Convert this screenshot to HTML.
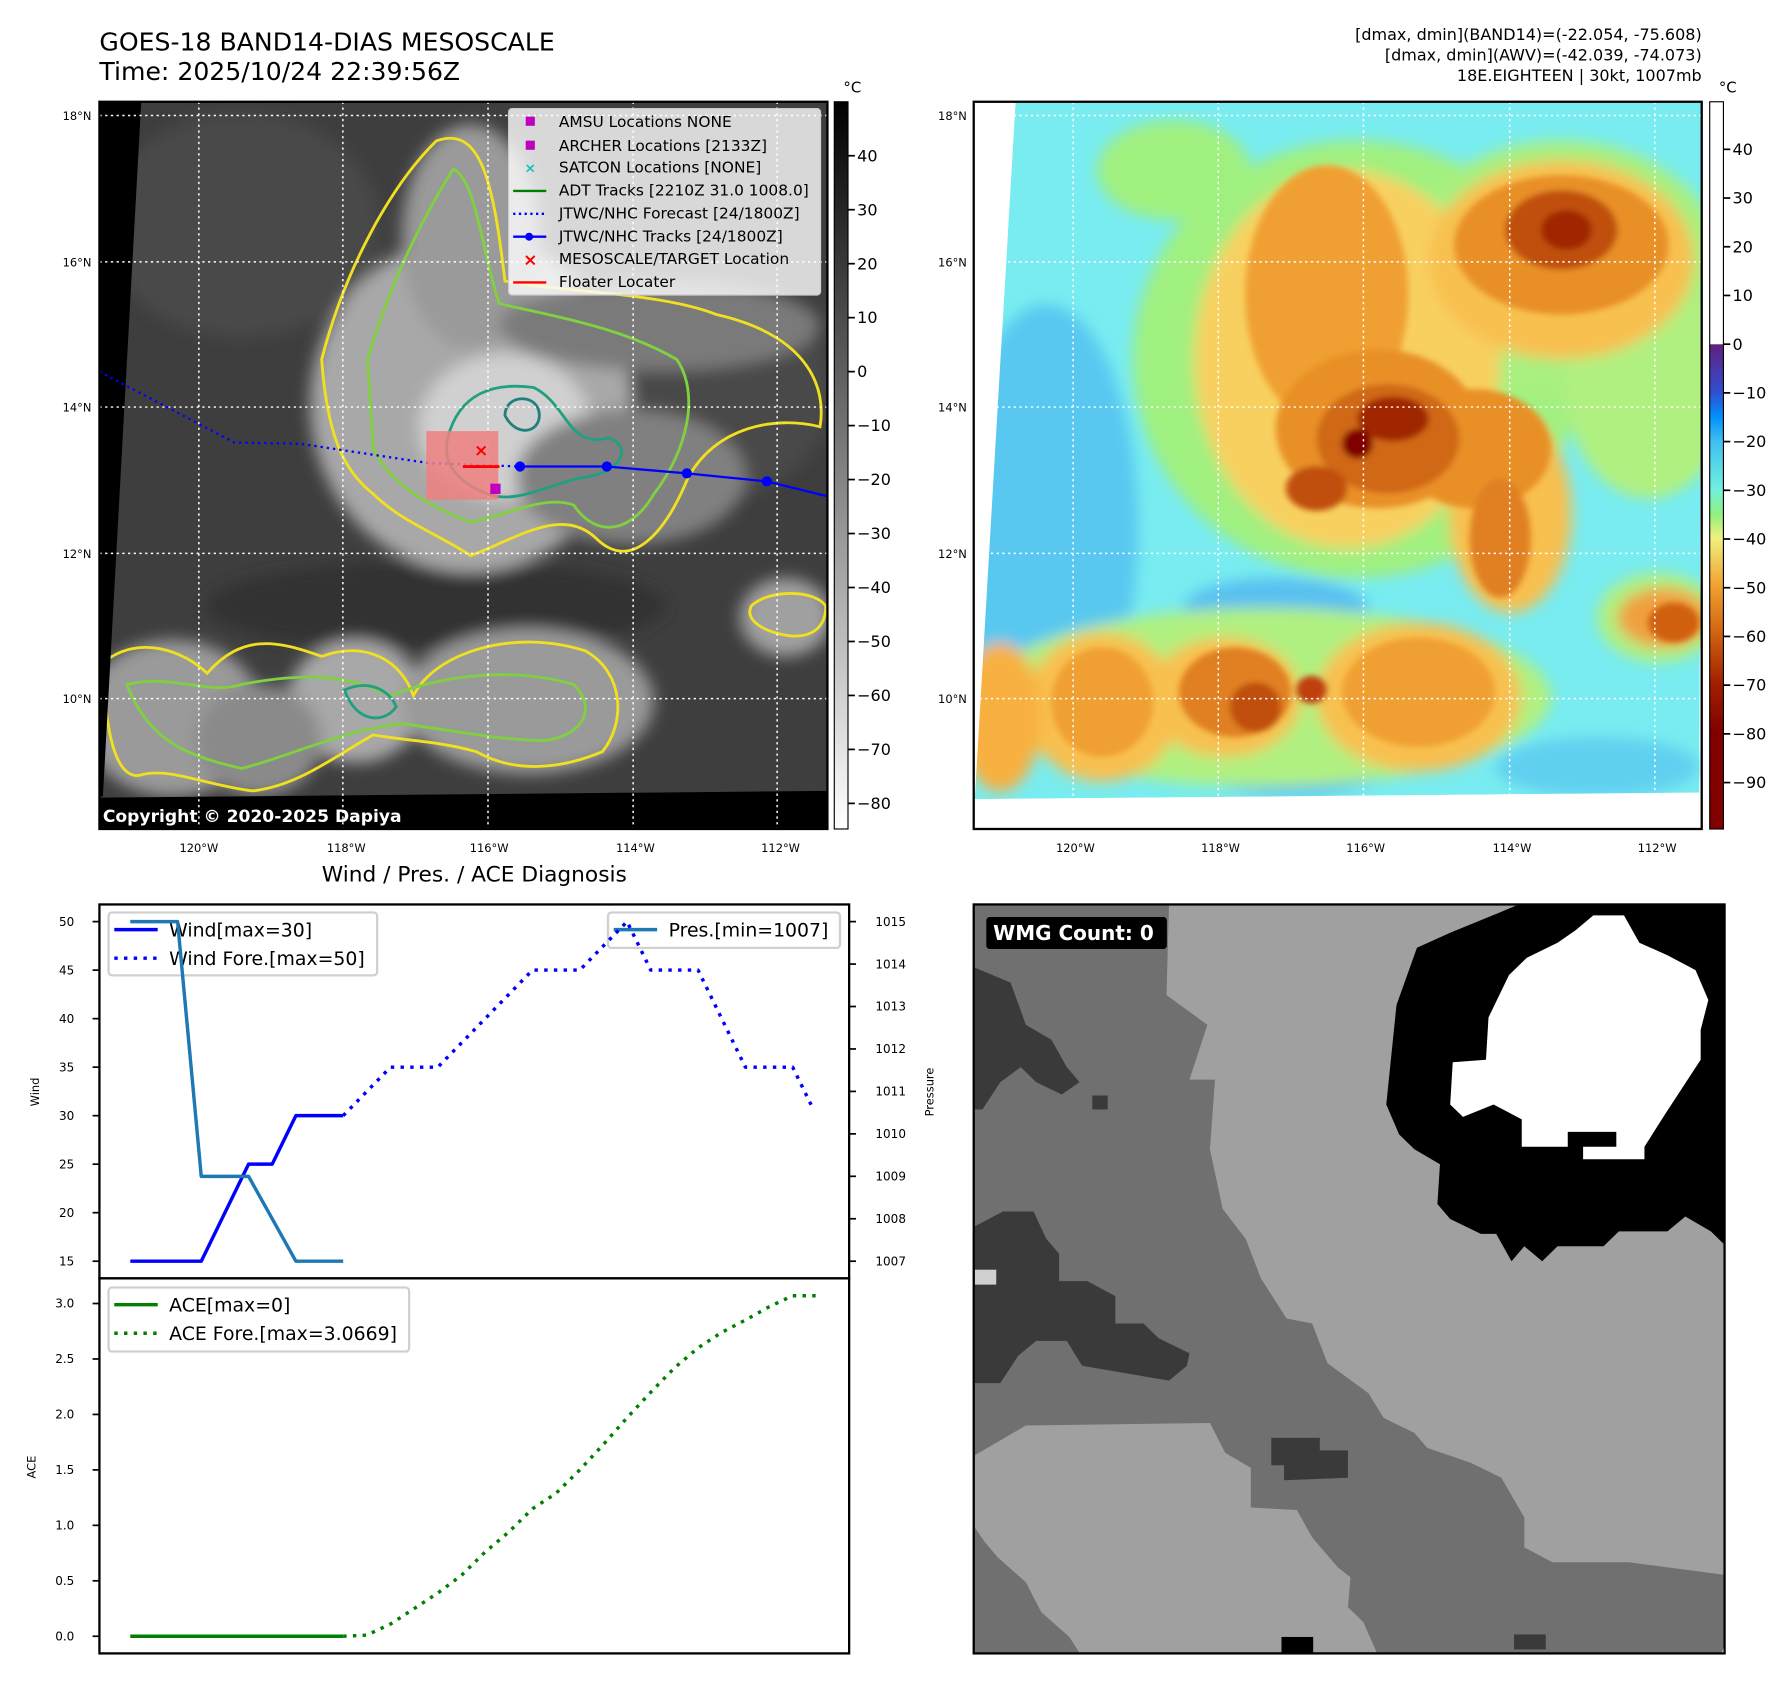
<!DOCTYPE html>
<html><head><meta charset="utf-8">
<style>
html,body{margin:0;padding:0;background:#fff;}
svg{display:block;font-family:"DejaVu Sans","Liberation Sans",sans-serif;}
</style></head>
<body>
<svg id="fig" width="1792" height="1690" viewBox="0 0 1568 1478" preserveAspectRatio="none" xmlns="http://www.w3.org/2000/svg">
<defs>
  <filter id="blur8" x="-30%" y="-30%" width="160%" height="160%"><feGaussianBlur stdDeviation="14"/></filter>
  <filter id="blur4" x="-30%" y="-30%" width="160%" height="160%"><feGaussianBlur stdDeviation="6"/></filter>
  <clipPath id="clip1"><rect x="87" y="89" width="637" height="636"/></clipPath>
  <clipPath id="clip2"><rect x="852" y="89" width="637" height="636"/></clipPath>
  <clipPath id="clip4"><rect x="852" y="791" width="657" height="655"/></clipPath>
  <linearGradient id="cb1" x1="0" y1="0" x2="0" y2="1">
    <stop offset="0" stop-color="#000"/><stop offset="1" stop-color="#fff"/>
  </linearGradient>
  <linearGradient id="cb2" x1="0" y1="0" x2="0" y2="1">
    <stop offset="0" stop-color="#fff"/><stop offset="0.333" stop-color="#fff"/>
    <stop offset="0.334" stop-color="#602080"/>
    <stop offset="0.40" stop-color="#3050d0"/>
    <stop offset="0.433" stop-color="#0090ff"/>
    <stop offset="0.467" stop-color="#40c0f0"/>
    <stop offset="0.533" stop-color="#70f0e0"/>
    <stop offset="0.567" stop-color="#90f080"/>
    <stop offset="0.60" stop-color="#f0f080"/>
    <stop offset="0.667" stop-color="#f0a030"/>
    <stop offset="0.733" stop-color="#d06010"/>
    <stop offset="0.80" stop-color="#a02000"/>
    <stop offset="0.867" stop-color="#800000"/>
    <stop offset="1" stop-color="#800000"/>
  </linearGradient>
</defs>

<!-- Titles -->
<text x="87" y="44" font-size="22">GOES-18 BAND14-DIAS MESOSCALE</text>
<text x="87" y="70" font-size="22">Time: 2025/10/24 22:39:56Z</text>
<g font-size="14" text-anchor="end">
  <text x="1489" y="35">[dmax, dmin](BAND14)=(-22.054, -75.608)</text>
  <text x="1489" y="53">[dmax, dmin](AWV)=(-42.039, -74.073)</text>
  <text x="1489" y="71">18E.EIGHTEEN | 30kt, 1007mb</text>
</g>

<!-- ============ MAP 1 ============ -->
<g clip-path="url(#clip1)">
  <rect x="87" y="89" width="637" height="636" fill="#3e3e3e"/>
  <g transform="translate(0.8,0.8) scale(0.5012,0.49)">
    <g filter="url(#blur8)">
      <ellipse cx="420" cy="400" rx="240" ry="200" fill="#4a4a4a"/>
      <ellipse cx="1200" cy="700" rx="250" ry="200" fill="#4a4a4a"/>
      <ellipse cx="760" cy="1080" rx="400" ry="80" fill="#303030"/>
      <ellipse cx="820" cy="720" rx="280" ry="300" fill="#a8a8a8"/>
      <ellipse cx="820" cy="420" rx="120" ry="200" fill="#9a9a9a"/>
      <ellipse cx="880" cy="760" rx="150" ry="130" fill="#d0d0d0"/>
      <ellipse cx="1100" cy="850" rx="200" ry="120" fill="#808080"/>
      <ellipse cx="1150" cy="580" rx="280" ry="80" fill="#7a7a7a"/>
      <ellipse cx="300" cy="1280" rx="160" ry="140" fill="#9a9a9a"/>
      <ellipse cx="620" cy="1250" rx="120" ry="110" fill="#a8a8a8"/>
      <ellipse cx="920" cy="1250" rx="220" ry="130" fill="#9a9a9a"/>
      <ellipse cx="1370" cy="1100" rx="80" ry="70" fill="#a0a0a0"/>
      <ellipse cx="450" cy="1320" rx="110" ry="100" fill="#8a8a8a"/>
    </g>
    <g fill="none" stroke-width="5">
      <path d="M560,640 C600,480 680,330 760,250 C840,220 860,330 880,500 C980,520 1150,520 1250,560 C1420,600 1440,700 1430,760 C1350,740 1250,760 1200,850 C1160,950 1100,1020 1040,960 C980,900 900,960 820,990 C760,950 700,930 650,880 C600,840 570,780 560,640 Z" stroke="#f0e020"/>
      <path d="M640,640 C680,500 740,380 790,300 C830,320 840,450 870,540 C950,560 1080,580 1180,640 C1220,700 1200,800 1140,880 C1100,950 1040,960 1000,900 C950,880 880,920 820,930 C740,900 680,860 650,800 Z" stroke="#80d040"/>
      <path d="M780,780 C800,700 860,680 930,690 C990,720 990,800 1060,780 C1100,790 1090,840 1020,850 C960,860 900,900 850,880 C800,860 770,830 780,780 Z" stroke="#20a080"/>
      <path d="M880,740 C880,700 940,700 940,740 C940,770 900,780 880,740 Z" stroke="#208080"/>
      <path d="M180,1180 C240,1130 320,1160 360,1200 C420,1130 480,1140 560,1170 C640,1140 700,1180 720,1240 C760,1160 900,1120 1020,1160 C1090,1200 1090,1290 1050,1340 C980,1370 900,1380 830,1340 C760,1320 700,1320 650,1310 C580,1350 520,1400 440,1410 C360,1400 300,1370 250,1380 C200,1400 180,1300 180,1180 Z" stroke="#f0e020"/>
      <path d="M220,1220 C300,1200 360,1240 420,1220 C520,1200 600,1200 680,1240 C780,1200 900,1190 1000,1220 C1040,1260 1020,1310 950,1320 C870,1320 780,1300 700,1290 C600,1300 500,1350 420,1370 C340,1350 260,1330 220,1220 Z" stroke="#80d040"/>
      <path d="M1310,1080 C1340,1050 1420,1050 1440,1080 C1440,1130 1400,1140 1360,1130 C1320,1120 1300,1100 1310,1080 Z" stroke="#f0e020"/>
      <path d="M600,1230 C640,1210 680,1230 690,1260 C670,1290 620,1290 600,1230 Z" stroke="#20a080"/>
    </g>
    <polygon points="172,180 245,180 178,1420 172,1420" fill="#000"/>
    <polygon points="172,1422 1443,1410 1443,1478 172,1478" fill="#000"/>
  </g>
  <g stroke="#fff" stroke-width="1.3" stroke-dasharray="2,3">
    <line x1="87" y1="101" x2="724" y2="101"/><line x1="87" y1="229" x2="724" y2="229"/>
    <line x1="87" y1="356" x2="724" y2="356"/><line x1="87" y1="484" x2="724" y2="484"/>
    <line x1="87" y1="611" x2="724" y2="611"/>
    <line x1="174" y1="89" x2="174" y2="725"/><line x1="300" y1="89" x2="300" y2="725"/>
    <line x1="427" y1="89" x2="427" y2="725"/><line x1="554" y1="89" x2="554" y2="725"/>
    <line x1="680" y1="89" x2="680" y2="725"/>
  </g>
  <polyline points="87,325 205,387 262,388 375,405 455,408" fill="none" stroke="#0000ff" stroke-width="2" stroke-dasharray="2,3.5"/>
  <rect x="373" y="377" width="63" height="60" fill="#f08080" opacity="0.85"/>
  <polyline points="455,408 531,408 601,414 671,421 724,434" fill="none" stroke="#0000ff" stroke-width="2"/>
  <g fill="#0000ff"><circle cx="455" cy="408" r="4.5"/><circle cx="531" cy="408" r="4.5"/><circle cx="601" cy="414" r="4.5"/><circle cx="671" cy="421" r="4.5"/></g>
  <line x1="405" y1="408" x2="437" y2="408" stroke="#ff0000" stroke-width="2.5"/>
  <text x="421" y="399" font-size="15" font-weight="bold" fill="#ff0000" text-anchor="middle">×</text>
  <rect x="429" y="423" width="9" height="9" fill="#c000c0"/>
  <text x="90" y="719" font-size="15" font-weight="bold" fill="#fff">Copyright © 2020-2025 Dapiya</text>
</g>
<rect x="87" y="89" width="637" height="636" fill="none" stroke="#000" stroke-width="2"/>

<g font-size="13.5">
  <rect x="445" y="95" width="273" height="163" rx="3" fill="#fff" fill-opacity="0.8" stroke="#ccc"/>
  <rect x="460" y="102" width="8" height="8" fill="#c000c0"/><text x="489" y="111">AMSU Locations NONE</text>
  <rect x="460" y="123" width="8" height="8" fill="#c000c0"/><text x="489" y="132">ARCHER Locations [2133Z]</text>
  <text x="464" y="151" fill="#10c0c0" text-anchor="middle" font-weight="bold" font-size="12">×</text><text x="489" y="151">SATCON Locations [NONE]</text>
  <line x1="449" y1="167" x2="478" y2="167" stroke="#008000" stroke-width="2"/><text x="489" y="171">ADT Tracks [2210Z 31.0 1008.0]</text>
  <line x1="449" y1="187" x2="478" y2="187" stroke="#0000ff" stroke-width="2" stroke-dasharray="2,3"/><text x="489" y="191">JTWC/NHC Forecast [24/1800Z]</text>
  <line x1="449" y1="207" x2="478" y2="207" stroke="#0000ff" stroke-width="2"/><circle cx="463" cy="207" r="3.5" fill="#0000ff"/><text x="489" y="211">JTWC/NHC Tracks [24/1800Z]</text>
  <text x="464" y="232" fill="#ff0000" text-anchor="middle" font-weight="bold" font-size="15">×</text><text x="489" y="231">MESOSCALE/TARGET Location</text>
  <line x1="449" y1="247" x2="478" y2="247" stroke="#ff0000" stroke-width="2"/><text x="489" y="251">Floater Locater</text>
</g>

<g font-size="10" text-anchor="end">
  <text x="80" y="105">18°N</text><text x="80" y="233">16°N</text><text x="80" y="360">14°N</text><text x="80" y="488">12°N</text><text x="80" y="615">10°N</text>
</g>
<g font-size="10" text-anchor="middle">
  <text x="174" y="745">120°W</text><text x="303" y="745">118°W</text><text x="428" y="745">116°W</text><text x="556" y="745">114°W</text><text x="683" y="745">112°W</text>
</g>
<g>
  <rect x="730" y="89" width="12" height="636" fill="url(#cb1)" stroke="#000" stroke-width="1"/>
  <text x="738" y="81" font-size="13">°C</text>
  <g font-size="14" id="cb1ticks"></g>
</g>

<!-- ============ MAP 2 ============ -->
<g clip-path="url(#clip2)">
  <rect x="852" y="89" width="637" height="636" fill="#fff"/>
  <g transform="translate(839.5,70.7) scale(0.4464,0.4347)">
    <polygon points="110,42 1455,42 1450,1432 30,1445" fill="#78ecf0"/>
    <g filter="url(#blur8)">
      <ellipse cx="170" cy="900" rx="180" ry="450" fill="#58c8f0"/>
      <ellipse cx="650" cy="1320" rx="250" ry="120" fill="#58c0f0"/>
      <ellipse cx="620" cy="1060" rx="180" ry="60" fill="#58c0f0"/>
      <ellipse cx="1250" cy="1380" rx="200" ry="60" fill="#60d0f0"/>
      <ellipse cx="780" cy="560" rx="440" ry="440" fill="#a0f080"/>
      <ellipse cx="1180" cy="380" rx="320" ry="260" fill="#a8f080"/>
      <ellipse cx="600" cy="1240" rx="560" ry="180" fill="#b0f080"/>
      <ellipse cx="1370" cy="1080" rx="120" ry="90" fill="#b0f080"/>
      <ellipse cx="1350" cy="620" rx="160" ry="220" fill="#b0f080"/>
      <ellipse cx="420" cy="180" rx="150" ry="100" fill="#a0f080"/>
      <ellipse cx="760" cy="560" rx="300" ry="380" fill="#f8d060"/>
      <ellipse cx="1180" cy="360" rx="260" ry="200" fill="#f8c050"/>
      <ellipse cx="1080" cy="870" rx="120" ry="200" fill="#f8c050"/>
      <ellipse cx="900" cy="1240" rx="200" ry="150" fill="#f8c050"/>
      <ellipse cx="520" cy="1240" rx="150" ry="120" fill="#f8c050"/>
      <ellipse cx="280" cy="1260" rx="150" ry="150" fill="#f8c050"/>
      <ellipse cx="80" cy="1280" rx="80" ry="150" fill="#f8b040"/>
      <ellipse cx="1380" cy="1080" rx="90" ry="60" fill="#f0a040"/>
    </g>
    <g filter="url(#blur4)">
      <ellipse cx="720" cy="430" rx="160" ry="260" fill="#f0a030"/>
      <ellipse cx="820" cy="700" rx="200" ry="160" fill="#e89028"/>
      <ellipse cx="1010" cy="740" rx="150" ry="120" fill="#e89028"/>
      <ellipse cx="1180" cy="330" rx="210" ry="140" fill="#e89028"/>
      <ellipse cx="1060" cy="920" rx="60" ry="120" fill="#e08020"/>
      <ellipse cx="900" cy="1230" rx="150" ry="110" fill="#f0a030"/>
      <ellipse cx="540" cy="1230" rx="110" ry="90" fill="#e08020"/>
      <ellipse cx="280" cy="1250" rx="100" ry="110" fill="#f0a030"/>
      <ellipse cx="840" cy="720" rx="140" ry="110" fill="#d06818"/>
      <ellipse cx="700" cy="820" rx="60" ry="45" fill="#c05010"/>
      <ellipse cx="1180" cy="300" rx="110" ry="80" fill="#c05010"/>
      <ellipse cx="580" cy="1260" rx="50" ry="50" fill="#c05010"/>
      <ellipse cx="690" cy="1225" rx="30" ry="28" fill="#c04010"/>
      <ellipse cx="1400" cy="1090" rx="50" ry="40" fill="#d06010"/>
      <ellipse cx="850" cy="680" rx="70" ry="45" fill="#a02800"/>
      <ellipse cx="780" cy="730" rx="30" ry="30" fill="#800000"/>
      <ellipse cx="1190" cy="300" rx="50" ry="40" fill="#a02800"/>
    </g>
    <polygon points="0,42 110,42 30,1445 0,1445" fill="#fff"/>
    <polygon points="0,1445 30,1445 1450,1432 1460,1432 1460,1520 0,1520" fill="#fff"/>
  </g>
  <g stroke="#fff" stroke-width="1.3" stroke-dasharray="2,3">
    <line x1="852" y1="101" x2="1489" y2="101"/><line x1="852" y1="229" x2="1489" y2="229"/>
    <line x1="852" y1="356" x2="1489" y2="356"/><line x1="852" y1="484" x2="1489" y2="484"/>
    <line x1="852" y1="611" x2="1489" y2="611"/>
    <line x1="939" y1="89" x2="939" y2="700"/><line x1="1066" y1="89" x2="1066" y2="700"/>
    <line x1="1193" y1="89" x2="1193" y2="700"/><line x1="1321" y1="89" x2="1321" y2="700"/>
    <line x1="1448" y1="89" x2="1448" y2="700"/>
  </g>
</g>
<rect x="852" y="89" width="637" height="636" fill="none" stroke="#000" stroke-width="2"/>
<g font-size="10" text-anchor="end">
  <text x="846" y="105">18°N</text><text x="846" y="233">16°N</text><text x="846" y="360">14°N</text><text x="846" y="488">12°N</text><text x="846" y="615">10°N</text>
</g>
<g font-size="10" text-anchor="middle">
  <text x="941" y="745">120°W</text><text x="1068" y="745">118°W</text><text x="1195" y="745">116°W</text><text x="1323" y="745">114°W</text><text x="1450" y="745">112°W</text>
</g>
<g>
  <rect x="1496" y="89" width="12" height="636" fill="url(#cb2)" stroke="#000" stroke-width="1"/>
  <text x="1504" y="81" font-size="13">°C</text>
  <g font-size="14" id="cb2ticks"></g>
</g>

<!-- ============ WMG ============ -->
<g clip-path="url(#clip4)">
  <rect x="852" y="791" width="657" height="655" fill="#707070"/>
  <g transform="translate(839.5,778.8) scale(0.4473,0.4352)">
    <polygon fill="#a0a0a0" points="410,28 1100,28 1495,28 1495,1375 1310,1350 1160,1350 1105,1320 1105,1260 1060,1180 1000,1150 915,1120 890,1090 830,1060 800,1010 720,950 690,870 640,860 590,780 560,700 515,640 490,520 500,380 450,380 485,270 405,210"/>
    <polygon fill="#000" points="1090,30 1495,30 1495,710 1470,685 1420,655 1385,685 1290,685 1260,715 1170,715 1140,745 1105,715 1080,745 1050,690 1020,690 960,660 935,630 940,550 890,520 860,490 835,430 855,230 895,115 960,85 1055,45"/>
    <polygon fill="#fff" points="1240,50 1300,50 1330,105 1385,130 1440,160 1465,220 1450,280 1450,340 1415,395 1380,450 1340,515 1340,540 1220,540 1220,515 1285,515 1285,485 1190,485 1190,515 1100,515 1100,460 1045,430 985,455 960,430 965,345 1030,340 1035,255 1075,170 1110,135 1170,105 1205,80"/>
    <polygon fill="#a0a0a0" points="30,1135 130,1075 490,1070 520,1130 570,1160 570,1240 660,1245 690,1300 740,1360 765,1380 760,1440 790,1470 820,1540 240,1540 215,1500 160,1450 130,1390 75,1340 50,1310 30,1280"/>
    <polygon fill="#3a3a3a" points="30,155 100,185 130,270 180,300 210,355 235,385 200,410 150,385 120,355 80,385 45,440 30,440"/>
    <polygon fill="#3a3a3a" points="30,675 85,645 145,645 170,700 195,730 195,785 250,785 305,815 305,870 360,870 390,900 450,930 445,955 410,985 240,955 210,905 150,905 115,935 80,990 30,990"/>
    <polygon fill="#3a3a3a" points="610,1100 705,1100 705,1125 760,1125 760,1180 635,1185 635,1155 610,1155"/>
    <rect x="260" y="412" width="30" height="28" fill="#3a3a3a"/>
    <rect x="30" y="762" width="42" height="30" fill="#d0d0d0"/>
    <rect x="630" y="1500" width="62" height="40" fill="#000"/>
    <rect x="1085" y="1495" width="62" height="30" fill="#3a3a3a"/>
    <polygon points="1495,1375 1510,1375 1510,1540 1490,1540 1495,1520" fill="#fff"/>
  </g>
</g>
<rect x="852" y="791" width="657" height="655" fill="none" stroke="#000" stroke-width="2"/>
<g>
  <rect x="863" y="802" width="158" height="28" rx="3" fill="#000"/>
  <text x="869" y="822" font-size="17.5" font-weight="bold" fill="#fff">WMG Count: 0</text>
</g>

<!-- ============ CHART ============ -->
<text x="415" y="771" font-size="19" text-anchor="middle">Wind / Pres. / ACE Diagnosis</text>
<g id="legends"></g>
<g id="chart"></g>
<rect x="87" y="791" width="656" height="327" fill="none" stroke="#000" stroke-width="2"/>
<rect x="87" y="1118" width="656" height="328" fill="none" stroke="#000" stroke-width="2"/>
<text transform="translate(34,955) rotate(-90)" font-size="10" text-anchor="middle">Wind</text>
<text transform="translate(817,955) rotate(-90)" font-size="10" text-anchor="middle">Pressure</text>
<text transform="translate(31,1283) rotate(-90)" font-size="10" text-anchor="middle">ACE</text>
</svg>

<script>
// ---- chart data ----
const windObsT = [0, 3, 5, 6, 7, 9];
const windObsV = [15, 15, 25, 25, 30, 30];
const windForeT = [9, 11, 13, 17, 19, 21, 22, 24, 26, 28, 28.8];
const windForeV = [30, 35, 35, 45, 45, 50, 45, 45, 35, 35, 31];
const presObsT = [0, 2, 3, 5, 7, 9];
const presObsV = [1015, 1015, 1009, 1009, 1007, 1007];
const aceObsT = [0, 9];
const aceObsV = [0, 0];
const aceForeT = [9, 10, 11, 12, 13, 14, 15, 16, 17, 18, 19, 20, 21, 22, 23, 24, 25, 26, 27, 28, 29];
const aceForeV = [0, 0.01, 0.11, 0.25, 0.39, 0.55, 0.76, 0.94, 1.15, 1.29, 1.5, 1.73, 1.97, 2.2, 2.42, 2.6, 2.74, 2.85, 2.97, 3.07, 3.07];
const windTicks = [15, 20, 25, 30, 35, 40, 45, 50];
const presTicks = [1007, 1008, 1009, 1010, 1011, 1012, 1013, 1014, 1015];
const aceTicks = [0, 0.5, 1.0, 1.5, 2.0, 2.5, 3.0];
const irTicks = [40, 30, 20, 10, 0, -10, -20, -30, -40, -50, -60, -70, -80];
const awvTicks = [40, 30, 20, 10, 0, -10, -20, -30, -40, -50, -60, -70, -80, -90];

const NS = 'http://www.w3.org/2000/svg';
function mk(tag, attrs, parent) {
  const e = document.createElementNS(NS, tag);
  for (const k in attrs) e.setAttribute(k, attrs[k]);
  parent.appendChild(e);
  return e;
}
const xS = t => 114 + t * 20.7;
const yWind = v => 1103 - (v - 15) * (297 / 35);
const yPres = v => 1103 - (v - 1007) * (297 / 8);
const yAce = v => 1431 - v * 97;
const yIr = v => 325 - v * 4.72;
const yAwv = v => 301 - v * 4.26;

const chart = document.getElementById('chart');
function line(ts, vs, ys, stroke, dash, name) {
  const pts = ts.map((t, i) => xS(t).toFixed(1) + ',' + ys(vs[i]).toFixed(1)).join(' ');
  const p = mk('polyline', {points: pts, fill: 'none', stroke: stroke, 'stroke-width': 3, 'stroke-linejoin': 'round'}, chart);
  if (dash) p.setAttribute('stroke-dasharray', '3,5.5');
  
  
}
line(windObsT, windObsV, yWind, '#0000ff', false, 'wind-line');
line(windForeT, windForeV, yWind, '#0000ff', true, 'wind-forecast-line');
line(presObsT, presObsV, yPres, '#1f77b4', false, 'pressure-line');
line(aceObsT, aceObsV, yAce, '#008000', false, 'ace-line');
line(aceForeT, aceForeV, yAce, '#008000', true, 'ace-forecast-line');

function ticks(vals, yf, xLine, dir, xText, anchor, fmt, parent, fs) {
  vals.forEach(v => {
    const y = yf(v);
    mk('line', {x1: xLine, y1: y, x2: xLine + dir * 6, y2: y, stroke: '#000', 'stroke-width': 1.5}, parent);
    const t = mk('text', {x: xText, y: y + fs * 0.35, 'font-size': fs, 'text-anchor': anchor}, parent);
    t.textContent = fmt(v);
  });
}
ticks(windTicks, yWind, 87, -1, 65, 'end', v => String(v), chart, 10.5);
ticks(presTicks, yPres, 743, 1, 766, 'start', v => String(v), chart, 10.5);
ticks(aceTicks, yAce, 87, -1, 65, 'end', v => v.toFixed(1), chart, 10.5);
const m = s => s.replace('-', '\u2212');
ticks(irTicks, yIr, 742, 1, 750, 'start', v => m(String(v)), document.getElementById('cb1ticks'), 14);
ticks(awvTicks, yAwv, 1508, 1, 1516, 'start', v => m(String(v)), document.getElementById('cb2ticks'), 14);

const lg = document.getElementById('legends');
function legendBox(x, y, w, h, name) {
  const r = mk('rect', {x: x, y: y, width: w, height: h, rx: 3, fill: '#fff', 'fill-opacity': 0.8, stroke: '#d0d0d0', 'stroke-width': 2}, lg);
  
  
}
function entry(x, y, color, dash, label) {
  const l = mk('line', {x1: x, y1: y, x2: x + 38, y2: y, stroke: color, 'stroke-width': 3}, lg);
  if (dash) l.setAttribute('stroke-dasharray', '3,5.5');
  const t = mk('text', {x: x + 48, y: y + 6, 'font-size': 16.5}, lg);
  t.textContent = label;
}
legendBox(95, 798, 235, 55, 'wind-legend');
entry(100, 813, '#0000ff', false, 'Wind[max=30]');
entry(100, 838, '#0000ff', true, 'Wind Fore.[max=50]');
legendBox(532, 798, 203, 31, 'pressure-legend');
entry(537, 813, '#1f77b4', false, 'Pres.[min=1007]');
legendBox(95, 1126, 263, 56, 'ace-legend');
entry(100, 1141, '#008000', false, 'ACE[max=0]');
entry(100, 1166, '#008000', true, 'ACE Fore.[max=3.0669]');
</script>
</body></html>
